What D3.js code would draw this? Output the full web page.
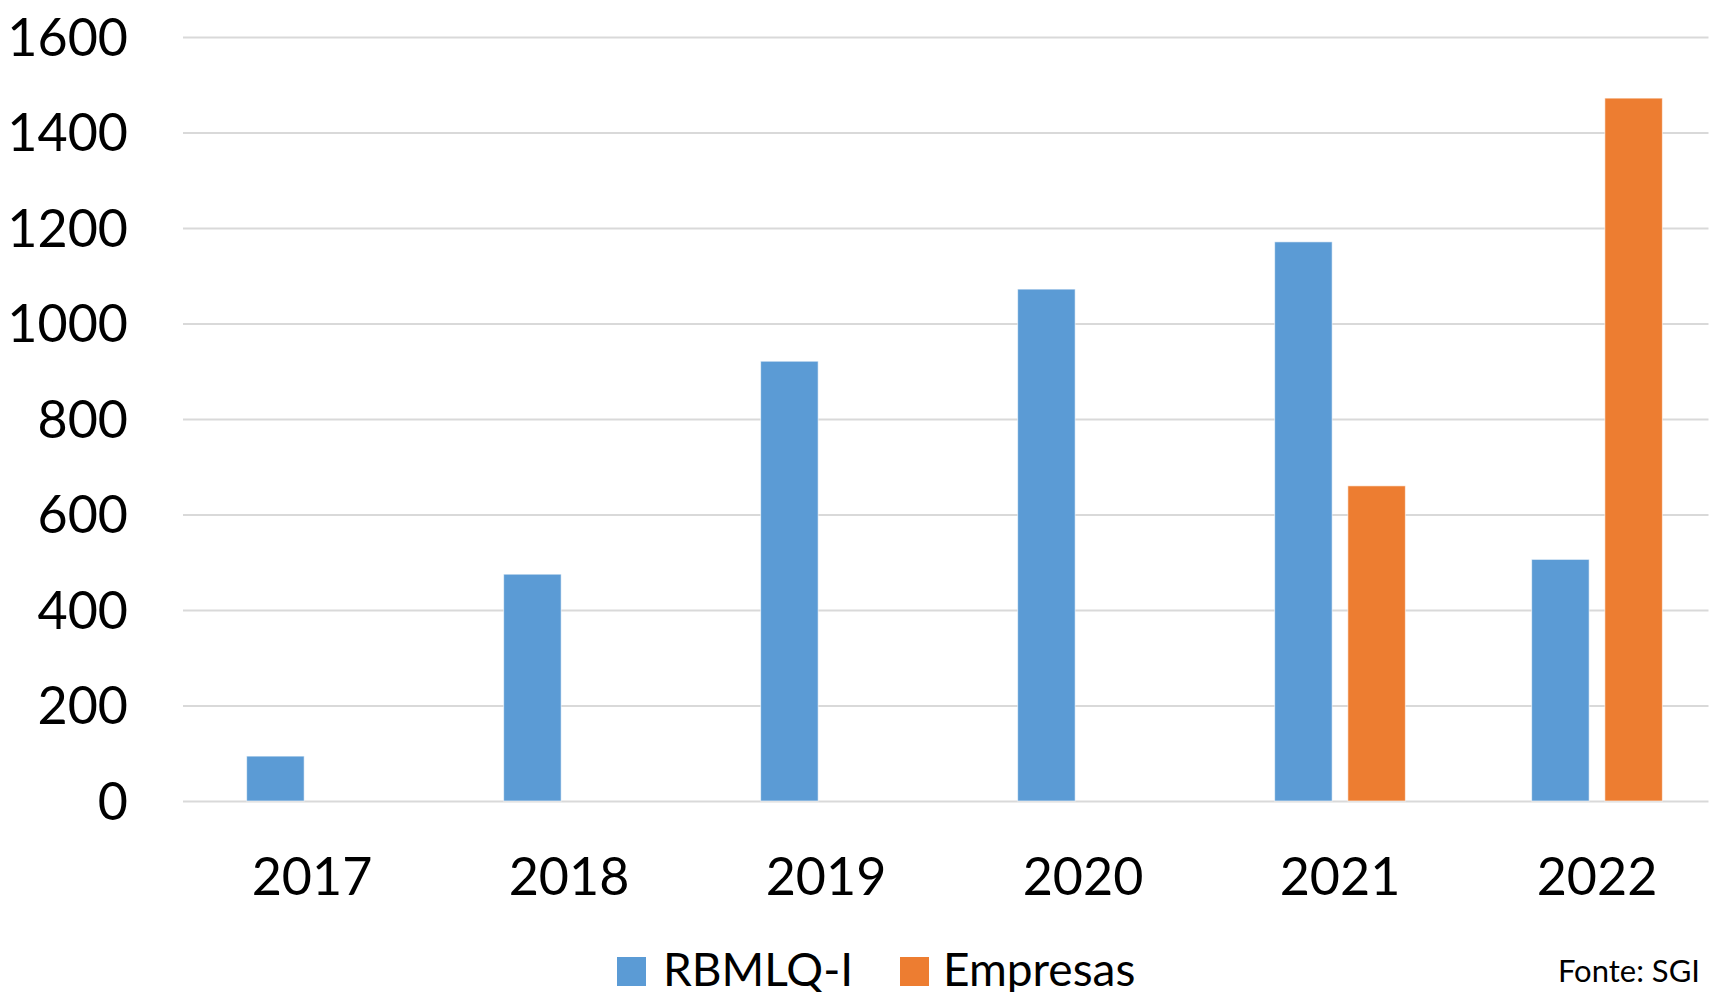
<!DOCTYPE html>
<html>
<head>
<meta charset="utf-8">
<script src="https://cdn.jsdelivr.net/npm/d3@7"></script>
<style>
  body { margin: 0; background: #fff; }
  text { font-family: Lato, "Open Sans", sans-serif; fill: #000; }
</style>
</head>
<body>
<div id="chart"></div>
<script>
// data
const years = ["2017", "2018", "2019", "2020", "2021", "2022"]
const seriesNames = ["RBMLQ-I", "Empresas"]
const rbmlq = [94, 475, 921, 1072, 1171, 506]
const empresas = [null, null, null, null, 660, 1472]
const yTicks = [0, 200, 400, 600, 800, 1000, 1200, 1400, 1600]
const colors = ["#5B9BD5", "#ED7D31"]

const W = 1709, H = 992
const PLOT = { LEFT: 183.5, RIGHT: 1725.5, TOP: 37, BOTTOM: 801 }

const svg = d3.select("#chart").append("svg")
    .attr("width", W)
    .attr("height", H)

const y = d3.scaleLinear()
    .domain([0, 1600])
    .range([PLOT.BOTTOM, PLOT.TOP])

const x0 = d3.scaleBand()
    .domain(years)
    .range([PLOT.LEFT, PLOT.RIGHT])

const x1 = d3.scaleBand()
    .domain(seriesNames)
    .range([0, x0.bandwidth()])
    .paddingInner(0.2145)
    .paddingOuter(0.8627)

// Gridlines + y labels
const yAxis = svg.append("g")
    .attr("transform", `translate(${PLOT.LEFT - 0.5}, 0)`)
    .call(d3.axisLeft(y)
        .tickValues(yTicks)
        .tickFormat(d3.format("d"))
        .tickSize(-(W - PLOT.LEFT))
        .tickPadding(55))
yAxis.select(".domain").remove()
yAxis.selectAll(".tick line")
    .attr("stroke", "#d9d9d9")
    .attr("stroke-width", 2)
yAxis.selectAll(".tick text")
    .attr("font-size", "52px")
    .attr("dy", "18px")
    .attr("fill", "#000")
    .style("font-family", "Lato")

// Bars
const rows = years.map((yr, i) => ({ year: yr, values: [rbmlq[i], empresas[i]] }))
const groups = svg.selectAll("g.group")
    .data(rows)
    .enter().append("g")
    .attr("class", "group")
    .attr("transform", d => `translate(${x0(d.year)}, 0)`)

groups.selectAll("rect")
    .data(d => d.values.map((v, j) => ({ name: seriesNames[j], value: v, color: colors[j] })).filter(d => d.value != null))
    .enter().append("rect")
    .attr("x", d => x1(d.name))
    .attr("width", x1.bandwidth())
    .attr("y", d => y(d.value))
    .attr("height", d => y(0) - y(d.value))
    .attr("fill", d => d.color)
    .attr("stroke", "#fff")
    .attr("stroke-opacity", 0.6)
    .attr("stroke-width", 1)

// X labels
svg.append("g").selectAll("text")
    .data(years)
    .enter().append("text")
    .attr("x", d => x0(d) + x0.bandwidth() / 2)
    .attr("y", 895)
    .attr("text-anchor", "middle")
    .attr("font-size", "52px")
    .text(d => d)

// Legend
const legendX = [617, 900]
const legend = svg.append("g").selectAll("g")
    .data(seriesNames)
    .enter().append("g")
    .attr("transform", (d, i) => `translate(${legendX[i]}, 957)`)
legend.append("rect")
    .attr("width", 29)
    .attr("height", 29)
    .attr("fill", (d, i) => colors[i])
legend.append("text")
    .attr("x", (d, i) => i == 0 ? 46 : 43)
    .attr("y", 29)
    .attr("font-size", "46px")
    .text(d => d)

svg.append("text")
    .attr("x", 1700)
    .attr("y", 982)
    .attr("text-anchor", "end")
    .attr("font-size", "31px")
    .text("Fonte: SGI")
</script>
</body>
</html>
